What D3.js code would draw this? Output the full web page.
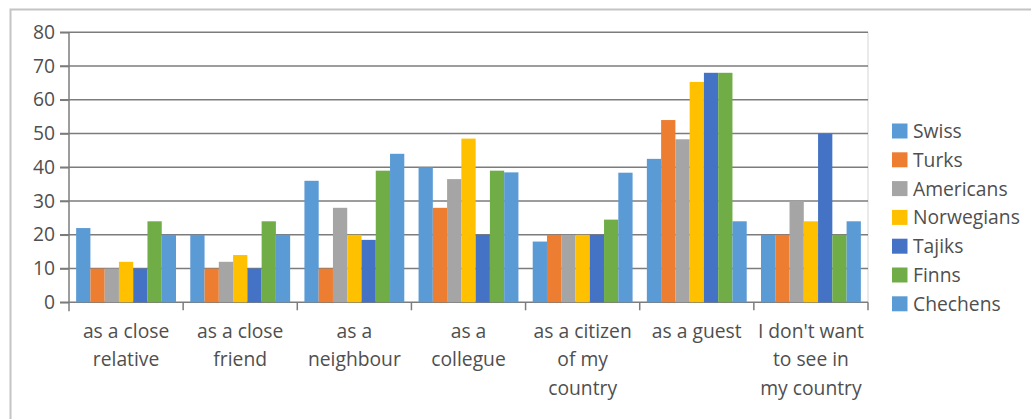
<!DOCTYPE html>
<html>
<head>
<meta charset="utf-8">
<script src="https://cdn.jsdelivr.net/npm/d3@7"></script>
<style>
  html, body { margin: 0; padding: 0; background: #fff; }
  svg { display: block; }
  text { font-family: "Open Sans", sans-serif; fill: #4f4f4f; }
</style>
</head>
<body>
<svg id="chart" width="1031" height="419"></svg>
<script>
// Attitude categories (line breaks as drawn under the axis)
const categories = [
  "as a close\nrelative",
  "as a close\nfriend",
  "as a\nneighbour",
  "as a\ncollegue",
  "as a citizen\nof my\ncountry",
  "as a guest",
  "I don't want\nto see in\nmy country"
];

const seriesNames = ["Swiss", "Turks", "Americans", "Norwegians", "Tajiks", "Finns", "Chechens"];
const seriesColors = ["#5B9BD5", "#ED7D31", "#A5A5A5", "#FFC000", "#4472C4", "#70AD47", "#5B9BD5"];

// One array per nationality, one value per category
const swiss      = [22, 20, 36, 40, 18, 42.5, 20];
const turks      = [10, 10, 10, 28, 20, 54, 20];
const americans  = [10, 12, 28, 36.5, 20, 48.3, 30];
const norwegians = [12, 14, 20, 48.5, 20, 65.3, 24];
const tajiks     = [10, 10, 18.5, 20, 20, 68, 50];
const finns      = [24, 24, 39, 39, 24.5, 68, 20];
const chechens   = [20, 20, 44, 38.5, 38.4, 24, 24];

const yTicks = [0, 10, 20, 30, 40, 50, 60, 70, 80];

const seriesValues = [swiss, turks, americans, norwegians, tajiks, finns, chechens];

const FONT_SIZE = 19.3;
const GRID = "#7c7c7c";

const svg = d3.select("#chart");

// Outer chart frame
svg.append("rect")
  .attr("x", 10.5).attr("y", 9.5)
  .attr("width", 1040).attr("height", 430)
  .attr("fill", "#fff")
  .attr("stroke", "#c4c4c4")
  .attr("stroke-width", 2);

const plot = { left: 69, right: 868, top: 32.3, bottom: 302.3 };

const x0 = d3.scaleBand()
  .domain(d3.range(categories.length))
  .range([plot.left, plot.right])
  .padding(0);

const x1 = d3.scaleBand()
  .domain(d3.range(seriesNames.length))
  .range([0, x0.bandwidth()])
  .paddingInner(0)
  .paddingOuter(0.5);

const y = d3.scaleLinear()
  .domain([0, 80])
  .range([plot.bottom, plot.top]);

// Plot area right border
svg.append("line")
  .attr("x1", plot.right).attr("x2", plot.right)
  .attr("y1", plot.top).attr("y2", plot.bottom)
  .attr("stroke", "#dcdcdc").attr("stroke-width", 1.2);

// Horizontal gridlines
svg.append("g")
  .attr("class", "grid")
  .selectAll("line")
  .data(yTicks)
  .join("line")
  .attr("x1", plot.left - 9)
  .attr("x2", plot.right)
  .attr("y1", d => y(d))
  .attr("y2", d => y(d))
  .attr("stroke", GRID)
  .attr("stroke-width", 1.5);

// Value axis with left tick marks
const yAxis = d3.axisLeft(y)
  .tickValues(yTicks)
  .tickSize(9)
  .tickPadding(5)
  .tickFormat(d3.format("d"));

const gy = svg.append("g")
  .attr("transform", `translate(${plot.left},0)`)
  .call(yAxis);
gy.select(".domain").remove();
gy.selectAll(".tick line").attr("stroke", GRID).attr("stroke-width", 1.5);
gy.selectAll(".tick text")
  .attr("font-size", FONT_SIZE)
  .attr("font-family", "Open Sans, sans-serif")
  .attr("fill", "#4f4f4f");

// Bars
const groups = svg.append("g")
  .selectAll("g")
  .data(categories)
  .join("g")
  .attr("transform", (d, i) => `translate(${x0(i)},0)`);

groups.selectAll("rect")
  .data((d, ci) => seriesValues.map((vals, si) => ({ si, v: vals[ci] })))
  .join("rect")
  .attr("x", d => x1(d.si))
  .attr("width", x1.bandwidth())
  .attr("y", d => y(d.v))
  .attr("height", d => y(0) - y(d.v))
  .attr("fill", d => seriesColors[d.si]);

// Vertical axis line
svg.append("line")
  .attr("x1", plot.left).attr("x2", plot.left)
  .attr("y1", plot.top).attr("y2", plot.bottom + 9)
  .attr("stroke", GRID).attr("stroke-width", 1.5);

// Category boundary ticks
svg.append("g")
  .selectAll("line")
  .data(d3.range(1, categories.length + 1))
  .join("line")
  .attr("x1", i => x0(i - 1) + x0.bandwidth())
  .attr("x2", i => x0(i - 1) + x0.bandwidth())
  .attr("y1", plot.bottom)
  .attr("y2", plot.bottom + 8)
  .attr("stroke", GRID).attr("stroke-width", 1.5);

// Category labels
const catLabels = svg.append("g")
  .selectAll("text")
  .data(categories)
  .join("text")
  .attr("text-anchor", "middle")
  .attr("font-size", FONT_SIZE)
  .attr("x", (d, i) => x0(i) + x0.bandwidth() / 2)
  .attr("y", 337.5);

catLabels.selectAll("tspan")
  .data(d => d.split("\n"))
  .join("tspan")
  .attr("x", function () { return d3.select(this.parentNode).attr("x"); })
  .attr("dy", (d, i) => i === 0 ? 0 : 28.5)
  .text(d => d);

// Legend
const legend = svg.append("g")
  .selectAll("g")
  .data(seriesNames)
  .join("g")
  .attr("transform", (d, i) => `translate(892,${123.5 + i * 28.8})`);

legend.append("rect")
  .attr("width", 15.5).attr("height", 15)
  .attr("fill", (d, i) => seriesColors[i]);

legend.append("text")
  .attr("x", 21)
  .attr("y", 14.5)
  .attr("font-size", FONT_SIZE)
  .text(d => d);
</script>
</body>
</html>
